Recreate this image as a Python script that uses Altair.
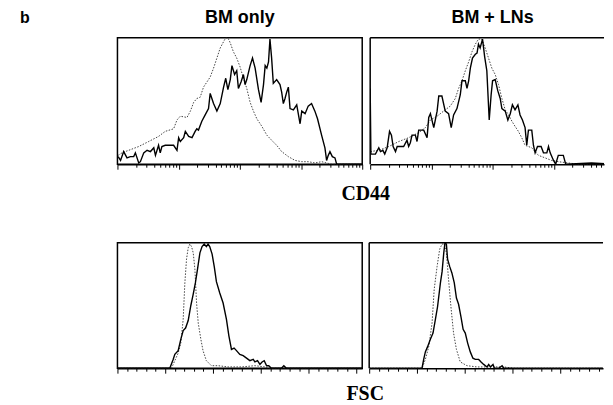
import math
import altair as alt
import pandas as pd

# Histogram channel (0-1024; CD44 = 4 log decades, FSC = linear) and counts (% of peak)
CD44_BM_SOLID_X = [3, 13, 26, 40, 54, 68, 75, 89, 96, 110, 124, 138, 152, 159, 172, 179, 186, 200, 214, 235,
                   249, 256, 263, 277, 284, 298, 312, 325, 332, 339, 353, 367, 381, 388, 402, 416, 430, 444, 453, 462,
                   472, 479, 490, 499, 506, 517, 527, 534, 541, 555, 565, 576, 590, 601, 611, 618, 625, 632, 638, 645,
                   652, 666, 680, 687, 694, 701, 708, 715, 722, 736, 750, 764, 771, 785, 798, 812, 826, 837, 854, 868,
                   875, 882, 889, 899, 910, 917, 1024]
CD44_BM_SOLID_Y = [6, 3, 10, 5, 6, 6, 9, 1, 2, 9, 11, 10, 13, 7, 15, 9, 14, 15, 15, 15,
                   11, 21, 18, 21, 26, 22, 21, 26, 28, 27, 34, 39, 44, 56, 48, 42, 48, 61, 68, 59,
                   67, 78, 71, 74, 60, 65, 71, 63, 67, 78, 84, 76, 59, 49, 63, 78, 76, 81, 99, 84,
                   64, 67, 63, 57, 48, 52, 57, 61, 44, 43, 47, 32, 42, 40, 46, 48, 42, 36, 23, 13,
                   3, 7, 10, 6, 5, 0, 0]
CD44_BM_DOT_X = [3, 19, 47, 89, 131, 172, 200, 235, 249, 263, 291, 305, 319, 332, 346, 360, 374, 388, 402, 416,
                 430, 444, 453, 462, 472, 485, 499, 513, 527, 541, 555, 569, 583, 604, 625, 645, 666, 687, 715, 743,
                 771, 798, 826, 854, 875, 896, 1024]
CD44_BM_DOT_Y = [7, 9, 11, 14, 18, 22, 26, 28, 35, 38, 37, 42, 49, 52, 53, 61, 65, 69, 76, 84,
                 92, 97, 100, 100, 96, 89, 84, 77, 68, 60, 49, 42, 36, 30, 23, 19, 15, 10, 6, 3,
                 2, 2, 1, 2, 1, 0, 0]

CD44_LN_SOLID_X = [0, 3, 8, 22, 36, 43, 53, 61, 71, 81, 89, 96, 106, 113, 127, 140, 154, 161, 168, 175,
                   189, 196, 203, 224, 238, 245, 252, 266, 280, 287, 300, 314, 328, 339, 349, 363, 377, 384, 398, 405,
                   412, 419, 428, 440, 447, 453, 460, 470, 479, 488, 498, 506, 512, 523, 534, 544, 551, 565, 576, 586,
                   595, 606, 618, 627, 637, 648, 655, 662, 676, 683, 690, 700, 715, 725, 739, 746, 753, 767, 776, 787,
                   808, 818, 926, 1024]
CD44_LN_SOLID_Y = [60, 8, 8, 8, 13, 10, 11, 8, 13, 26, 23, 14, 10, 14, 14, 14, 19, 14, 17, 23,
                   23, 18, 27, 27, 21, 37, 40, 29, 42, 54, 54, 42, 40, 29, 39, 44, 55, 66, 66, 60,
                   66, 76, 84, 87, 88, 95, 92, 99, 85, 74, 35, 55, 66, 67, 58, 52, 44, 42, 35, 40,
                   47, 43, 47, 39, 35, 29, 15, 27, 27, 15, 9, 14, 14, 9, 9, 14, 9, 3, 0, 7,
                   7, 0, 1, 0]
CD44_LN_DOT_X = [1, 36, 78, 120, 161, 203, 231, 252, 280, 307, 335, 356, 370, 384, 398, 412, 426, 440, 453, 467,
                 481, 495, 509, 523, 537, 551, 565, 579, 593, 606, 620, 634, 648, 676, 704, 732, 759, 787, 829, 871,
                 1024]
CD44_LN_DOT_Y = [10, 11, 14, 18, 21, 25, 29, 35, 38, 42, 46, 52, 60, 66, 74, 81, 89, 95, 99, 99,
                 92, 84, 76, 71, 63, 52, 43, 39, 34, 30, 26, 21, 15, 13, 7, 5, 3, 2, 1, 0,
                 0]

FSC_BM_SOLID_X = [0, 219, 233, 240, 254, 265, 275, 285, 296, 307, 317, 326, 335, 345, 354, 363, 372, 379, 386, 396,
                  405, 414, 428, 442, 456, 466, 477, 488, 498, 512, 526, 540, 554, 568, 575, 586, 596, 605, 614, 624,
                  633, 644, 686, 696, 707, 1024]
FSC_BM_SOLID_Y = [0, 0, 7, 11, 14, 23, 30, 32, 38, 50, 59, 68, 79, 92, 97, 99, 97, 99, 97, 91,
                  81, 69, 60, 52, 39, 26, 15, 16, 14, 11, 10, 8, 6, 7, 5, 6, 3, 5, 6, 2,
                  2, 0, 0, 2, 0, 0]
FSC_BM_DOT_X = [0, 226, 240, 254, 265, 275, 282, 289, 296, 303, 310, 317, 324, 331, 338, 349, 358, 372, 393, 421,
                463, 519, 575, 617, 631, 1024]
FSC_BM_DOT_Y = [0, 0, 6, 12, 20, 39, 68, 87, 96, 99, 97, 92, 79, 52, 36, 23, 14, 6, 2, 2,
                1, 1, 2, 1, 0, 0]

FSC_LN_SOLID_X = [0, 221, 228, 235, 244, 256, 267, 277, 286, 298, 305, 312, 317, 323, 328, 337, 346, 356, 365, 374,
                  384, 393, 402, 412, 423, 434, 444, 458, 468, 479, 493, 500, 507, 518, 524, 542, 556, 563, 1024]
FSC_LN_SOLID_Y = [0, 0, 7, 13, 17, 23, 28, 39, 49, 68, 77, 92, 100, 99, 87, 81, 76, 68, 56, 51,
                  41, 31, 28, 20, 13, 8, 7, 7, 5, 3, 1, 3, 1, 3, 0, 0, 2, 0, 0]
FSC_LN_DOT_X = [0, 221, 235, 249, 263, 272, 284, 295, 305, 314, 323, 332, 342, 353, 365, 381, 409, 451, 507, 563,
                605, 1024]
FSC_LN_DOT_Y = [0, 0, 7, 17, 36, 63, 81, 95, 99, 99, 92, 71, 49, 28, 15, 5, 2, 1, 1, 1,
                0, 0]

COLUMN_TITLES = ["BM only", "BM + LNs"]
ROW_TITLES = ["CD44", "FSC"]
PANEL_LABEL = "b"

CD44_MAJOR = [0, 256, 512, 768, 1024]
CD44_MINOR = [round(256 * (d + math.log10(k)), 2) for d in range(4) for k in range(2, 10)]
FSC_MAJOR = [0, 200, 400, 600, 800, 1000]
FSC_MINOR = [v for v in range(40, 1024, 40) if v % 200]

SANS = "Liberation Sans"
SERIF = "Liberation Serif"

FULL_W = 246          # nominal panel width (the right column runs off the page edge)
RIGHT_W = 235         # visible part of the right column
CH_MAX = 1024
ONE = pd.DataFrame({"k": [0]})


def label(text, x, y, size, color="black", align="center"):
    return alt.Chart(ONE).mark_text(text=text, font=SANS, fontSize=size, fontWeight="bold", color=color,
                                    align=align, baseline="alphabetic").encode(x=alt.value(x), y=alt.value(y))


def panel(sx, sy, dx, dy, major, minor, height, left, title="", show_b=False):
    width = FULL_W if left else RIGHT_W
    xmax = CH_MAX * width / FULL_W
    solid = pd.DataFrame({"channel": sx, "count": sy})
    dotted = pd.DataFrame({"channel": dx, "count": dy})
    xs = alt.Scale(domain=[0, xmax], nice=False, zero=False)
    ys = alt.Scale(domain=[0, 100], nice=False)
    major_axis = alt.Axis(title=None, values=[v for v in major if v <= xmax], labels=False, grid=False,
                          ticks=True, tickSize=5, tickColor="black", tickWidth=1, domain=True,
                          domainColor="black", domainWidth=1.5, orient="bottom")
    minor_axis = alt.Axis(title=None, values=[v for v in minor if v <= xmax], labels=False, grid=False,
                          ticks=True, tickSize=3, tickColor="black", tickWidth=1, domain=False, orient="bottom")
    dot = alt.Chart(dotted).mark_line(color="#444444", strokeWidth=1, strokeDash=[1.5, 1.5], clip=True).encode(
        x=alt.X("channel:Q", scale=xs, axis=minor_axis),
        y=alt.Y("count:Q", scale=ys, axis=None),
    )
    sol = alt.Chart(solid).mark_line(color="black", strokeWidth=1.4, clip=True).encode(
        x=alt.X("channel:Q", scale=xs, axis=major_axis),
        y=alt.Y("count:Q", scale=ys, axis=None),
    )
    layers = [dot, sol]
    if not left:
        top_line = alt.Chart(ONE).mark_rule(color="black", strokeWidth=1.5).encode(
            x=alt.value(0), x2=alt.value(width), y=alt.value(0)
        )
        left_line = alt.Chart(ONE).mark_rule(color="black", strokeWidth=1.5).encode(
            x=alt.value(0), y=alt.value(0), y2=alt.value(height)
        )
        layers += [top_line, left_line]
    if title:
        layers.append(label(title, FULL_W / 2, -15, 18))
    if left:
        # panel letter (visible on the first row; a blank copy keeps the rows aligned)
        if show_b:
            layers.append(label(PANEL_LABEL, -98, -15, 16, align="left"))
        else:
            layers.append(label(PANEL_LABEL, -98, 20, 16, color="white", align="left"))
    ch = alt.layer(*layers).resolve_axis(x="independent").properties(width=width, height=height)
    if left:
        ch = ch.properties(view=alt.ViewBackground(stroke="black", strokeWidth=1.5, fill="white"))
    else:
        ch = ch.properties(view=alt.ViewBackground(strokeOpacity=0, fill="white"))
    return ch


p1 = panel(CD44_BM_SOLID_X, CD44_BM_SOLID_Y, CD44_BM_DOT_X, CD44_BM_DOT_Y, CD44_MAJOR, CD44_MINOR,
           127, True, COLUMN_TITLES[0], show_b=True)
p2 = panel(CD44_LN_SOLID_X, CD44_LN_SOLID_Y, CD44_LN_DOT_X, CD44_LN_DOT_Y, CD44_MAJOR, CD44_MINOR,
           127, False, COLUMN_TITLES[1])
p3 = panel(FSC_BM_SOLID_X, FSC_BM_SOLID_Y, FSC_BM_DOT_X, FSC_BM_DOT_Y, FSC_MAJOR, FSC_MINOR,
           126, True)
p4 = panel(FSC_LN_SOLID_X, FSC_LN_SOLID_Y, FSC_LN_DOT_X, FSC_LN_DOT_Y, FSC_MAJOR, FSC_MINOR,
           126, False)

top_row = alt.hconcat(p1, p2, spacing=5).properties(
    title=alt.TitleParams(ROW_TITLES[0], orient="bottom", anchor="middle", font=SERIF, fontSize=20,
                          fontWeight="bold", baseline="alphabetic", offset=30, dx=54, color="black")
)
bottom_row = alt.hconcat(p3, p4, spacing=5).properties(
    title=alt.TitleParams(ROW_TITLES[1], orient="bottom", anchor="middle", font=SERIF, fontSize=20,
                          fontWeight="bold", baseline="alphabetic", offset=26, dx=54, color="black")
)

chart = alt.vconcat(top_row, bottom_row, spacing=37).properties(
    padding={"left": 11, "top": -1, "right": 0, "bottom": 0},
    background="white",
).configure_view(stroke="transparent")

chart.save("out.html", embed_options={"renderer": "svg", "actions": False})
